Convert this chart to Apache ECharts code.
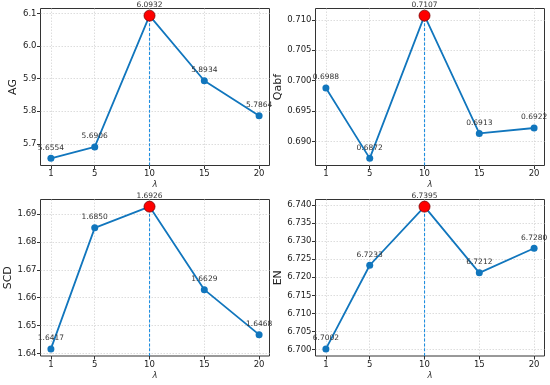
<!DOCTYPE html>
<html><head><meta charset="utf-8">
<script src="https://cdn.jsdelivr.net/npm/echarts@6/dist/echarts.min.js"></script>
<style>html,body{margin:0;padding:0;background:#fff}#c{width:550px;height:385px}</style>
</head><body><div id="c"></div>
<script>
const lambdas = [1, 5, 10, 15, 20];
const xTicks = [1, 5, 10, 15, 20];
const agValues = [5.6554, 5.6906, 6.0932, 5.8934, 5.7864];
const qabfValues = [0.6988, 0.6872, 0.7107, 0.6913, 0.6922];
const scdValues = [1.6417, 1.6850, 1.6926, 1.6629, 1.6468];
const enValues = [6.7002, 6.7233, 6.7395, 6.7212, 6.7280];
const agTicks = [5.7, 5.8, 5.9, 6.0, 6.1];
const qabfTicks = [0.690, 0.695, 0.700, 0.705, 0.710];
const scdTicks = [1.64, 1.65, 1.66, 1.67, 1.68, 1.69];
const enTicks = [6.700, 6.705, 6.710, 6.715, 6.720, 6.725, 6.730, 6.735, 6.740];

const panels = [
  {name: 'AG', values: agValues, ticks: agTicks, dec: 1, left: 40.5, top: 8.5, height: 157, gap: 19},
  {name: 'Qabf', values: qabfValues, ticks: qabfTicks, dec: 3, left: 315.5, top: 8.5, height: 157, gap: 30},
  {name: 'SCD', values: scdValues, ticks: scdTicks, dec: 2, left: 40.5, top: 199.5, height: 156.5, gap: 23},
  {name: 'EN', values: enValues, ticks: enTicks, dec: 3, left: 315.5, top: 199.5, height: 156.5, gap: 28}
];

const FONT = 'DejaVu Sans';
const LINE = '#1176bd';
const grids = [], xAxes = [], yAxes = [], series = [];
panels.forEach((p, i) => {
  const lo = Math.min(...p.values), hi = Math.max(...p.values);
  const m = (hi - lo) * 0.05;
  const ymin = lo - m, ymax = hi + m;
  const xr = (lambdas[lambdas.length - 1] - lambdas[0]) * 0.05;
  grids.push({left: p.left, top: p.top, width: 229, height: p.height, show: true,
    borderColor: '#333', borderWidth: 1, backgroundColor: 'transparent'});
  xAxes.push({type: 'value', gridIndex: i, min: lambdas[0] - xr, max: lambdas[lambdas.length - 1] + xr,
    name: 'λ', nameLocation: 'middle', nameGap: 15,
    nameTextStyle: {fontFamily: FONT, fontSize: 8.5, fontStyle: 'italic', color: '#333'},
    axisLine: {show: false},
    axisTick: {show: true, customValues: xTicks, length: 3.5, lineStyle: {color: '#333'}},
    axisLabel: {customValues: xTicks, fontFamily: FONT, fontSize: 8.5, color: '#222', margin: 4},
    splitLine: {show: true, lineStyle: {color: '#d4d4d4', type: [1.5, 1.5], width: 0.8}}
  });
  yAxes.push({type: 'value', gridIndex: i, min: ymin, max: ymax,
    name: p.name, nameLocation: 'middle', nameGap: p.gap, nameRotate: 90,
    nameTextStyle: {fontFamily: FONT, fontSize: 11, color: '#222'},
    axisLine: {show: false},
    axisTick: {show: true, customValues: p.ticks, length: 3.5, lineStyle: {color: '#333'}},
    axisLabel: {customValues: p.ticks, fontFamily: FONT, fontSize: 8.5, color: '#222', margin: 4,
      formatter: v => Number(v).toFixed(p.dec)},
    splitLine: {show: true, lineStyle: {color: '#d4d4d4', type: [1.5, 1.5], width: 0.8}}
  });
  const peakIdx = p.values.indexOf(hi);
  series.push({type: 'line', xAxisIndex: i, yAxisIndex: i, silent: true,
    data: [[lambdas[peakIdx], ymin], [lambdas[peakIdx], hi]],
    symbol: 'none', lineStyle: {color: '#1e8ee0', type: [3, 1.8], width: 1.1}, z: 2
  });
  series.push({type: 'line', xAxisIndex: i, yAxisIndex: i,
    data: lambdas.map((x, k) => {
      const d = {value: [x, p.values[k]]};
      if (k === peakIdx) {
        d.symbolSize = 11;
        d.itemStyle = {color: '#ff0000', borderColor: '#7a0000', borderWidth: 0.8};
      }
      return d;
    }),
    symbol: 'circle', symbolSize: 7, showAllSymbol: true,
    lineStyle: {color: LINE, width: 1.8},
    itemStyle: {color: LINE},
    label: {show: true, position: 'inside', offset: [0, -10.5], fontFamily: FONT, fontSize: 7.5,
      color: '#333', formatter: o => o.value[1].toFixed(4)},
    z: 3
  });
});

const chart = echarts.init(document.getElementById('c'), null, {renderer: 'canvas'});
chart.setOption({animation: false, backgroundColor: '#fff', grid: grids, xAxis: xAxes, yAxis: yAxes, series: series});
</script></body></html>
